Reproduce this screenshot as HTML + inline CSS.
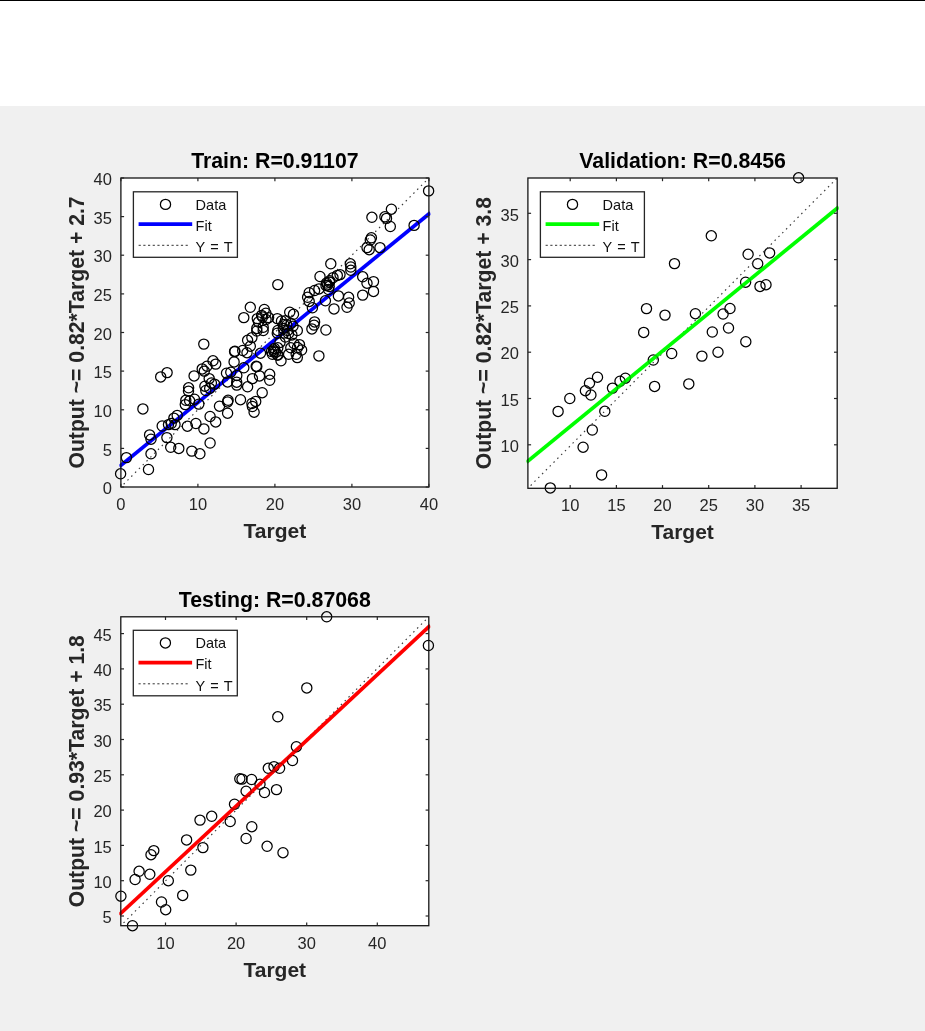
<!DOCTYPE html>
<html><head><meta charset="utf-8"><title>Regression</title>
<style>
html,body{margin:0;padding:0;background:#fff;}
body{width:925px;height:1031px;overflow:hidden;position:relative;font-family:"Liberation Sans",sans-serif;}
#top{position:absolute;left:0;top:0;width:925px;height:1px;background:#000;}
#fig{position:absolute;left:0;top:106px;width:925px;height:925px;background:#f0f0f0;}
svg{position:absolute;left:0;top:0;filter:blur(0.45px);}
svg text{font-family:"Liberation Sans",sans-serif;}
</style></head><body>
<div id="top"></div><div id="fig"></div>
<svg width="925" height="1031" viewBox="0 0 925 1031">
<rect x="120.9" y="178.0" width="308.0" height="309.0" fill="#fff"/>
<clipPath id="c120_178"><rect x="120.9" y="178.0" width="308.0" height="309.0"/></clipPath>
<clipPath id="c120_178f"><rect x="119.4" y="178.0" width="311.0" height="309.0"/></clipPath>
<clipPath id="c120_178l"><polygon points="120.60,467.97 431.60,214.27 429.20,211.33 118.20,465.03"/></clipPath>
<line x1="120.9" y1="487.0" x2="428.9" y2="178.0" stroke="#3a3a3a" stroke-width="1.15" stroke-dasharray="1.5 3.9" stroke-dashoffset="1.5" clip-path="url(#c120_178)"/>
<line x1="119.4" y1="466.5" x2="430.4" y2="212.8" stroke="#0000ff" stroke-width="3.7" clip-path="url(#c120_178f)"/>
<g fill="none" stroke="#000" stroke-width="1.25" stroke-opacity="1">
<circle cx="120.6" cy="473.8" r="5.1"/>
<circle cx="126.4" cy="457.6" r="5.1"/>
<circle cx="148.5" cy="469.5" r="5.1"/>
<circle cx="151.0" cy="453.8" r="5.1"/>
<circle cx="142.9" cy="408.9" r="5.1"/>
<circle cx="149.6" cy="434.9" r="5.1"/>
<circle cx="151.0" cy="439.2" r="5.1"/>
<circle cx="162.2" cy="426.0" r="5.1"/>
<circle cx="166.9" cy="437.6" r="5.1"/>
<circle cx="170.7" cy="447.3" r="5.1"/>
<circle cx="178.8" cy="448.4" r="5.1"/>
<circle cx="168.5" cy="424.6" r="5.1"/>
<circle cx="171.2" cy="423.5" r="5.1"/>
<circle cx="175.0" cy="424.6" r="5.1"/>
<circle cx="173.9" cy="418.1" r="5.1"/>
<circle cx="177.2" cy="415.4" r="5.1"/>
<circle cx="187.4" cy="426.2" r="5.1"/>
<circle cx="195.9" cy="423.5" r="5.1"/>
<circle cx="203.9" cy="428.9" r="5.1"/>
<circle cx="191.8" cy="451.1" r="5.1"/>
<circle cx="199.9" cy="453.8" r="5.1"/>
<circle cx="210.1" cy="443.0" r="5.1"/>
<circle cx="210.1" cy="416.5" r="5.1"/>
<circle cx="215.7" cy="421.9" r="5.1"/>
<circle cx="185.8" cy="400.3" r="5.1"/>
<circle cx="185.3" cy="404.6" r="5.1"/>
<circle cx="189.6" cy="400.8" r="5.1"/>
<circle cx="194.5" cy="399.2" r="5.1"/>
<circle cx="198.8" cy="404.1" r="5.1"/>
<circle cx="188.5" cy="391.1" r="5.1"/>
<circle cx="205.8" cy="390.5" r="5.1"/>
<circle cx="203.8" cy="344.1" r="5.1"/>
<circle cx="213.0" cy="360.8" r="5.1"/>
<circle cx="215.7" cy="364.1" r="5.1"/>
<circle cx="207.0" cy="366.2" r="5.1"/>
<circle cx="202.2" cy="368.9" r="5.1"/>
<circle cx="204.3" cy="371.1" r="5.1"/>
<circle cx="194.1" cy="375.9" r="5.1"/>
<circle cx="188.6" cy="387.8" r="5.1"/>
<circle cx="209.2" cy="378.6" r="5.1"/>
<circle cx="204.9" cy="386.2" r="5.1"/>
<circle cx="211.4" cy="383.0" r="5.1"/>
<circle cx="214.6" cy="384.1" r="5.1"/>
<circle cx="209.7" cy="388.4" r="5.1"/>
<circle cx="226.5" cy="373.2" r="5.1"/>
<circle cx="230.8" cy="372.2" r="5.1"/>
<circle cx="227.6" cy="381.9" r="5.1"/>
<circle cx="234.1" cy="361.9" r="5.1"/>
<circle cx="234.6" cy="351.6" r="5.1"/>
<circle cx="242.7" cy="350.5" r="5.1"/>
<circle cx="247.0" cy="352.7" r="5.1"/>
<circle cx="247.6" cy="340.3" r="5.1"/>
<circle cx="251.9" cy="337.6" r="5.1"/>
<circle cx="250.3" cy="346.2" r="5.1"/>
<circle cx="256.8" cy="331.0" r="5.1"/>
<circle cx="263.2" cy="330.5" r="5.1"/>
<circle cx="236.8" cy="375.4" r="5.1"/>
<circle cx="236.8" cy="385.1" r="5.1"/>
<circle cx="243.8" cy="367.8" r="5.1"/>
<circle cx="247.6" cy="386.8" r="5.1"/>
<circle cx="252.4" cy="378.6" r="5.1"/>
<circle cx="256.2" cy="366.2" r="5.1"/>
<circle cx="259.5" cy="375.9" r="5.1"/>
<circle cx="269.7" cy="374.3" r="5.1"/>
<circle cx="269.7" cy="380.3" r="5.1"/>
<circle cx="262.2" cy="392.7" r="5.1"/>
<circle cx="240.5" cy="399.7" r="5.1"/>
<circle cx="227.6" cy="401.9" r="5.1"/>
<circle cx="228.1" cy="400.3" r="5.1"/>
<circle cx="219.5" cy="406.2" r="5.1"/>
<circle cx="227.6" cy="413.2" r="5.1"/>
<circle cx="251.9" cy="403.5" r="5.1"/>
<circle cx="255.7" cy="401.4" r="5.1"/>
<circle cx="254.1" cy="412.2" r="5.1"/>
<circle cx="274.1" cy="351.6" r="5.1"/>
<circle cx="277.3" cy="354.9" r="5.1"/>
<circle cx="277.3" cy="333.2" r="5.1"/>
<circle cx="260.5" cy="353.2" r="5.1"/>
<circle cx="277.8" cy="284.6" r="5.1"/>
<circle cx="250.3" cy="307.3" r="5.1"/>
<circle cx="243.8" cy="317.6" r="5.1"/>
<circle cx="264.3" cy="309.5" r="5.1"/>
<circle cx="265.9" cy="313.2" r="5.1"/>
<circle cx="261.6" cy="315.4" r="5.1"/>
<circle cx="268.6" cy="317.6" r="5.1"/>
<circle cx="257.3" cy="318.6" r="5.1"/>
<circle cx="263.2" cy="327.3" r="5.1"/>
<circle cx="256.8" cy="328.4" r="5.1"/>
<circle cx="277.3" cy="318.6" r="5.1"/>
<circle cx="289.7" cy="312.2" r="5.1"/>
<circle cx="293.5" cy="314.3" r="5.1"/>
<circle cx="285.4" cy="320.8" r="5.1"/>
<circle cx="277.8" cy="330.5" r="5.1"/>
<circle cx="283.2" cy="328.4" r="5.1"/>
<circle cx="287.6" cy="330.5" r="5.1"/>
<circle cx="297.3" cy="330.5" r="5.1"/>
<circle cx="293.0" cy="326.2" r="5.1"/>
<circle cx="291.9" cy="334.9" r="5.1"/>
<circle cx="285.4" cy="337.0" r="5.1"/>
<circle cx="294.0" cy="343.5" r="5.1"/>
<circle cx="299.5" cy="344.6" r="5.1"/>
<circle cx="301.6" cy="350.0" r="5.1"/>
<circle cx="290.8" cy="347.8" r="5.1"/>
<circle cx="296.2" cy="354.3" r="5.1"/>
<circle cx="297.3" cy="357.6" r="5.1"/>
<circle cx="288.6" cy="354.3" r="5.1"/>
<circle cx="281.0" cy="360.8" r="5.1"/>
<circle cx="275.7" cy="352.2" r="5.1"/>
<circle cx="273.5" cy="350.0" r="5.1"/>
<circle cx="277.8" cy="347.8" r="5.1"/>
<circle cx="272.4" cy="354.3" r="5.1"/>
<circle cx="280.0" cy="342.4" r="5.1"/>
<circle cx="318.9" cy="355.9" r="5.1"/>
<circle cx="311.9" cy="328.9" r="5.1"/>
<circle cx="314.6" cy="321.9" r="5.1"/>
<circle cx="314.1" cy="325.1" r="5.1"/>
<circle cx="325.9" cy="330.0" r="5.1"/>
<circle cx="334.0" cy="308.9" r="5.1"/>
<circle cx="325.4" cy="300.8" r="5.1"/>
<circle cx="312.4" cy="307.8" r="5.1"/>
<circle cx="309.2" cy="301.4" r="5.1"/>
<circle cx="309.2" cy="292.7" r="5.1"/>
<circle cx="314.6" cy="290.5" r="5.1"/>
<circle cx="318.9" cy="288.9" r="5.1"/>
<circle cx="320.0" cy="276.5" r="5.1"/>
<circle cx="326.5" cy="283.0" r="5.1"/>
<circle cx="329.7" cy="280.8" r="5.1"/>
<circle cx="333.0" cy="277.6" r="5.1"/>
<circle cx="337.3" cy="275.4" r="5.1"/>
<circle cx="338.4" cy="295.9" r="5.1"/>
<circle cx="391.4" cy="209.2" r="5.1"/>
<circle cx="371.9" cy="217.3" r="5.1"/>
<circle cx="384.9" cy="216.8" r="5.1"/>
<circle cx="386.5" cy="218.4" r="5.1"/>
<circle cx="390.3" cy="226.5" r="5.1"/>
<circle cx="371.4" cy="237.8" r="5.1"/>
<circle cx="370.3" cy="240.0" r="5.1"/>
<circle cx="367.0" cy="247.6" r="5.1"/>
<circle cx="369.2" cy="249.7" r="5.1"/>
<circle cx="380.0" cy="247.6" r="5.1"/>
<circle cx="330.8" cy="263.8" r="5.1"/>
<circle cx="350.3" cy="263.8" r="5.1"/>
<circle cx="350.8" cy="267.0" r="5.1"/>
<circle cx="350.8" cy="270.3" r="5.1"/>
<circle cx="340.0" cy="274.6" r="5.1"/>
<circle cx="362.7" cy="276.8" r="5.1"/>
<circle cx="367.0" cy="283.2" r="5.1"/>
<circle cx="373.5" cy="281.6" r="5.1"/>
<circle cx="373.5" cy="291.4" r="5.1"/>
<circle cx="362.7" cy="295.1" r="5.1"/>
<circle cx="348.6" cy="297.3" r="5.1"/>
<circle cx="326.0" cy="285.4" r="5.1"/>
<circle cx="329.2" cy="286.5" r="5.1"/>
<circle cx="307.6" cy="297.3" r="5.1"/>
<circle cx="428.6" cy="190.9" r="5.1"/>
<circle cx="414.1" cy="225.4" r="5.1"/>
<circle cx="160.7" cy="376.9" r="5.1"/>
<circle cx="167.1" cy="372.6" r="5.1"/>
<circle cx="349.2" cy="303.0" r="5.1"/>
<circle cx="347.0" cy="307.3" r="5.1"/>
<circle cx="327.6" cy="285.1" r="5.1"/>
<circle cx="329.5" cy="282.2" r="5.1"/>
<circle cx="328.5" cy="289.5" r="5.1"/>
<circle cx="252.4" cy="406.5" r="5.1"/>
<circle cx="286.8" cy="325.0" r="5.1"/>
<circle cx="283.8" cy="324.5" r="5.1"/>
<circle cx="291.0" cy="323.5" r="5.1"/>
<circle cx="288.5" cy="333.5" r="5.1"/>
<circle cx="284.0" cy="333.0" r="5.1"/>
<circle cx="281.5" cy="321.0" r="5.1"/>
<circle cx="262.5" cy="317.0" r="5.1"/>
<circle cx="266.0" cy="319.5" r="5.1"/>
<circle cx="258.5" cy="322.0" r="5.1"/>
<circle cx="274.5" cy="348.5" r="5.1"/>
<circle cx="278.0" cy="355.0" r="5.1"/>
<circle cx="271.5" cy="351.5" r="5.1"/>
<circle cx="297.5" cy="347.5" r="5.1"/>
<circle cx="236.7" cy="382.2" r="5.1"/>
<circle cx="234.9" cy="351.2" r="5.1"/>
<circle cx="256.8" cy="366.6" r="5.1"/>
</g>
<rect x="120.9" y="178.0" width="308.0" height="309.0" fill="none" stroke="#151515" stroke-width="1.3"/>
<g stroke="#262626" stroke-width="1.2">
<line x1="120.9" y1="487.0" x2="120.9" y2="483.8"/><line x1="120.9" y1="178.0" x2="120.9" y2="181.2"/>
<line x1="197.9" y1="487.0" x2="197.9" y2="483.8"/><line x1="197.9" y1="178.0" x2="197.9" y2="181.2"/>
<line x1="274.9" y1="487.0" x2="274.9" y2="483.8"/><line x1="274.9" y1="178.0" x2="274.9" y2="181.2"/>
<line x1="351.9" y1="487.0" x2="351.9" y2="483.8"/><line x1="351.9" y1="178.0" x2="351.9" y2="181.2"/>
<line x1="428.9" y1="487.0" x2="428.9" y2="483.8"/><line x1="428.9" y1="178.0" x2="428.9" y2="181.2"/>
<line x1="120.9" y1="487.0" x2="124.10000000000001" y2="487.0"/><line x1="428.9" y1="487.0" x2="425.7" y2="487.0"/>
<line x1="120.9" y1="448.4" x2="124.10000000000001" y2="448.4"/><line x1="428.9" y1="448.4" x2="425.7" y2="448.4"/>
<line x1="120.9" y1="409.8" x2="124.10000000000001" y2="409.8"/><line x1="428.9" y1="409.8" x2="425.7" y2="409.8"/>
<line x1="120.9" y1="371.1" x2="124.10000000000001" y2="371.1"/><line x1="428.9" y1="371.1" x2="425.7" y2="371.1"/>
<line x1="120.9" y1="332.5" x2="124.10000000000001" y2="332.5"/><line x1="428.9" y1="332.5" x2="425.7" y2="332.5"/>
<line x1="120.9" y1="293.9" x2="124.10000000000001" y2="293.9"/><line x1="428.9" y1="293.9" x2="425.7" y2="293.9"/>
<line x1="120.9" y1="255.2" x2="124.10000000000001" y2="255.2"/><line x1="428.9" y1="255.2" x2="425.7" y2="255.2"/>
<line x1="120.9" y1="216.6" x2="124.10000000000001" y2="216.6"/><line x1="428.9" y1="216.6" x2="425.7" y2="216.6"/>
<line x1="120.9" y1="178.0" x2="124.10000000000001" y2="178.0"/><line x1="428.9" y1="178.0" x2="425.7" y2="178.0"/>
</g>
<g fill="#262626" font-size="16.5" class="t">
<text x="120.9" y="510.1" text-anchor="middle">0</text>
<text x="197.9" y="510.1" text-anchor="middle">10</text>
<text x="274.9" y="510.1" text-anchor="middle">20</text>
<text x="351.9" y="510.1" text-anchor="middle">30</text>
<text x="428.9" y="510.1" text-anchor="middle">40</text>
<text x="111.9" y="494.2" text-anchor="end">0</text>
<text x="111.9" y="455.59999999999997" text-anchor="end">5</text>
<text x="111.9" y="417.0" text-anchor="end">10</text>
<text x="111.9" y="378.3" text-anchor="end">15</text>
<text x="111.9" y="339.7" text-anchor="end">20</text>
<text x="111.9" y="301.09999999999997" text-anchor="end">25</text>
<text x="111.9" y="262.4" text-anchor="end">30</text>
<text x="111.9" y="223.79999999999998" text-anchor="end">35</text>
<text x="111.9" y="185.2" text-anchor="end">40</text>
</g>
<text x="274.9" y="538.0" text-anchor="middle" font-size="21" font-weight="bold" fill="#262626">Target</text>
<text x="274.9" y="167.8" text-anchor="middle" font-size="21.3" font-weight="bold" fill="#000">Train: R=0.91107</text>
<text transform="translate(84.4 332.5) rotate(-90)" text-anchor="middle" font-size="21.2" font-weight="bold" fill="#262626">Output ~= 0.82*Target + 2.7</text>
<rect x="133.4" y="191.8" width="104.0" height="65.5" fill="#fff" stroke="#262626" stroke-width="1.3"/>
<circle cx="165.5" cy="204.4" r="5.1" fill="none" stroke="#000" stroke-width="1.25"/>
<line x1="138.6" y1="224.20000000000002" x2="192.2" y2="224.20000000000002" stroke="#0000ff" stroke-width="3.8"/>
<line x1="138.6" y1="245.3" x2="189.4" y2="245.3" stroke="#333" stroke-width="1" stroke-dasharray="2.2 2.5"/>
<g fill="#111" font-size="14.5" word-spacing="1.3" class="t"><text x="195.60000000000002" y="209.60000000000002">Data</text><text x="195.60000000000002" y="230.9">Fit</text><text x="195.60000000000002" y="252.10000000000002">Y = T</text></g>
<rect x="527.9" y="178.0" width="309.30000000000007" height="310.3" fill="#fff"/>
<clipPath id="c527_178"><rect x="527.9" y="178.0" width="309.30000000000007" height="310.3"/></clipPath>
<clipPath id="c527_178f"><rect x="526.4" y="178.0" width="312.30000000000007" height="310.3"/></clipPath>
<clipPath id="c527_178l"><polygon points="527.60,463.67 839.90,208.47 837.50,205.53 525.20,460.73"/></clipPath>
<g fill="none" stroke="#000" stroke-width="1.25" stroke-opacity="1">
<circle cx="550.3" cy="487.9" r="5.1"/>
<circle cx="601.6" cy="474.9" r="5.1"/>
<circle cx="583.1" cy="447.2" r="5.1"/>
<circle cx="592.3" cy="430.0" r="5.1"/>
<circle cx="604.8" cy="411.3" r="5.1"/>
<circle cx="558.1" cy="411.4" r="5.1"/>
<circle cx="569.8" cy="398.5" r="5.1"/>
<circle cx="585.4" cy="390.7" r="5.1"/>
<circle cx="590.9" cy="395.0" r="5.1"/>
<circle cx="589.5" cy="383.2" r="5.1"/>
<circle cx="597.5" cy="377.2" r="5.1"/>
<circle cx="612.5" cy="388.1" r="5.1"/>
<circle cx="620.0" cy="381.2" r="5.1"/>
<circle cx="625.4" cy="378.2" r="5.1"/>
<circle cx="653.3" cy="360.0" r="5.1"/>
<circle cx="654.6" cy="386.4" r="5.1"/>
<circle cx="671.7" cy="353.5" r="5.1"/>
<circle cx="711.3" cy="235.8" r="5.1"/>
<circle cx="674.5" cy="263.6" r="5.1"/>
<circle cx="748.1" cy="254.3" r="5.1"/>
<circle cx="769.6" cy="252.9" r="5.1"/>
<circle cx="757.7" cy="263.7" r="5.1"/>
<circle cx="745.6" cy="282.2" r="5.1"/>
<circle cx="760.0" cy="286.4" r="5.1"/>
<circle cx="766.0" cy="284.7" r="5.1"/>
<circle cx="646.5" cy="308.6" r="5.1"/>
<circle cx="665.0" cy="315.1" r="5.1"/>
<circle cx="695.4" cy="313.7" r="5.1"/>
<circle cx="723.1" cy="314.0" r="5.1"/>
<circle cx="730.0" cy="308.5" r="5.1"/>
<circle cx="643.7" cy="332.4" r="5.1"/>
<circle cx="712.3" cy="332.0" r="5.1"/>
<circle cx="728.5" cy="328.0" r="5.1"/>
<circle cx="745.8" cy="341.7" r="5.1"/>
<circle cx="701.9" cy="356.1" r="5.1"/>
<circle cx="718.0" cy="352.2" r="5.1"/>
<circle cx="688.8" cy="383.9" r="5.1"/>
<circle cx="798.6" cy="177.8" r="5.1"/>
</g>
<line x1="527.9" y1="488.3" x2="837.2" y2="178.0" stroke="#3a3a3a" stroke-width="1.15" stroke-dasharray="1.5 3.9" stroke-dashoffset="1.5" clip-path="url(#c527_178)"/>
<line x1="526.4" y1="462.2" x2="838.7" y2="207.0" stroke="#00ff00" stroke-width="3.7" clip-path="url(#c527_178f)"/>
<g fill="none" stroke="#000" stroke-width="1.25" stroke-opacity="0.28" clip-path="url(#c527_178l)">
<circle cx="612.5" cy="388.1" r="5.1"/>
<circle cx="620.0" cy="381.2" r="5.1"/>
<circle cx="625.4" cy="378.2" r="5.1"/>
<circle cx="653.3" cy="360.0" r="5.1"/>
<circle cx="671.7" cy="353.5" r="5.1"/>
<circle cx="757.7" cy="263.7" r="5.1"/>
<circle cx="745.6" cy="282.2" r="5.1"/>
<circle cx="695.4" cy="313.7" r="5.1"/>
</g>
<rect x="527.9" y="178.0" width="309.30000000000007" height="310.3" fill="none" stroke="#151515" stroke-width="1.3"/>
<g stroke="#262626" stroke-width="1.2">
<line x1="570.2" y1="488.3" x2="570.2" y2="485.1"/><line x1="570.2" y1="178.0" x2="570.2" y2="181.2"/>
<line x1="616.4" y1="488.3" x2="616.4" y2="485.1"/><line x1="616.4" y1="178.0" x2="616.4" y2="181.2"/>
<line x1="662.5" y1="488.3" x2="662.5" y2="485.1"/><line x1="662.5" y1="178.0" x2="662.5" y2="181.2"/>
<line x1="708.7" y1="488.3" x2="708.7" y2="485.1"/><line x1="708.7" y1="178.0" x2="708.7" y2="181.2"/>
<line x1="754.9" y1="488.3" x2="754.9" y2="485.1"/><line x1="754.9" y1="178.0" x2="754.9" y2="181.2"/>
<line x1="801.1" y1="488.3" x2="801.1" y2="485.1"/><line x1="801.1" y1="178.0" x2="801.1" y2="181.2"/>
<line x1="527.9" y1="444.8" x2="531.1" y2="444.8"/><line x1="837.2" y1="444.8" x2="834.0" y2="444.8"/>
<line x1="527.9" y1="398.5" x2="531.1" y2="398.5"/><line x1="837.2" y1="398.5" x2="834.0" y2="398.5"/>
<line x1="527.9" y1="352.2" x2="531.1" y2="352.2"/><line x1="837.2" y1="352.2" x2="834.0" y2="352.2"/>
<line x1="527.9" y1="305.9" x2="531.1" y2="305.9"/><line x1="837.2" y1="305.9" x2="834.0" y2="305.9"/>
<line x1="527.9" y1="259.6" x2="531.1" y2="259.6"/><line x1="837.2" y1="259.6" x2="834.0" y2="259.6"/>
<line x1="527.9" y1="213.3" x2="531.1" y2="213.3"/><line x1="837.2" y1="213.3" x2="834.0" y2="213.3"/>
</g>
<g fill="#262626" font-size="16.5" class="t">
<text x="570.2" y="511.40000000000003" text-anchor="middle">10</text>
<text x="616.4" y="511.40000000000003" text-anchor="middle">15</text>
<text x="662.5" y="511.40000000000003" text-anchor="middle">20</text>
<text x="708.7" y="511.40000000000003" text-anchor="middle">25</text>
<text x="754.9" y="511.40000000000003" text-anchor="middle">30</text>
<text x="801.1" y="511.40000000000003" text-anchor="middle">35</text>
<text x="518.9" y="452.0" text-anchor="end">10</text>
<text x="518.9" y="405.7" text-anchor="end">15</text>
<text x="518.9" y="359.4" text-anchor="end">20</text>
<text x="518.9" y="313.09999999999997" text-anchor="end">25</text>
<text x="518.9" y="266.8" text-anchor="end">30</text>
<text x="518.9" y="220.5" text-anchor="end">35</text>
</g>
<text x="682.55" y="539.3" text-anchor="middle" font-size="21" font-weight="bold" fill="#262626">Target</text>
<text x="682.55" y="167.8" text-anchor="middle" font-size="21.3" font-weight="bold" fill="#000">Validation: R=0.8456</text>
<text transform="translate(491.4 333.15) rotate(-90)" text-anchor="middle" font-size="21.2" font-weight="bold" fill="#262626">Output ~= 0.82*Target + 3.8</text>
<rect x="540.4" y="191.8" width="104.0" height="65.5" fill="#fff" stroke="#262626" stroke-width="1.3"/>
<circle cx="572.5" cy="204.4" r="5.1" fill="none" stroke="#000" stroke-width="1.25"/>
<line x1="545.6" y1="224.20000000000002" x2="599.1999999999999" y2="224.20000000000002" stroke="#00ff00" stroke-width="3.8"/>
<line x1="545.6" y1="245.3" x2="596.4" y2="245.3" stroke="#333" stroke-width="1" stroke-dasharray="2.2 2.5"/>
<g fill="#111" font-size="14.5" word-spacing="1.3" class="t"><text x="602.6" y="209.60000000000002">Data</text><text x="602.6" y="230.9">Fit</text><text x="602.6" y="252.10000000000002">Y = T</text></g>
<rect x="120.8" y="616.8" width="308.0" height="308.9000000000001" fill="#fff"/>
<clipPath id="c120_616"><rect x="120.8" y="616.8" width="308.0" height="308.9000000000001"/></clipPath>
<clipPath id="c120_616f"><rect x="119.3" y="616.8" width="311.0" height="308.9000000000001"/></clipPath>
<clipPath id="c120_616l"><polygon points="120.59,916.09 431.59,626.79 429.01,624.01 118.01,913.31"/></clipPath>
<g fill="none" stroke="#000" stroke-width="1.25" stroke-opacity="1">
<circle cx="132.5" cy="925.7" r="5.1"/>
<circle cx="120.9" cy="896.2" r="5.1"/>
<circle cx="135.1" cy="879.5" r="5.1"/>
<circle cx="139.1" cy="871.3" r="5.1"/>
<circle cx="149.8" cy="874.3" r="5.1"/>
<circle cx="151.0" cy="854.7" r="5.1"/>
<circle cx="153.8" cy="850.6" r="5.1"/>
<circle cx="168.3" cy="880.7" r="5.1"/>
<circle cx="161.5" cy="902.0" r="5.1"/>
<circle cx="165.7" cy="909.7" r="5.1"/>
<circle cx="182.7" cy="895.4" r="5.1"/>
<circle cx="190.8" cy="870.1" r="5.1"/>
<circle cx="186.6" cy="839.9" r="5.1"/>
<circle cx="202.9" cy="847.6" r="5.1"/>
<circle cx="200.0" cy="820.1" r="5.1"/>
<circle cx="211.7" cy="816.3" r="5.1"/>
<circle cx="230.2" cy="821.5" r="5.1"/>
<circle cx="234.5" cy="804.2" r="5.1"/>
<circle cx="246.1" cy="838.5" r="5.1"/>
<circle cx="251.8" cy="826.7" r="5.1"/>
<circle cx="267.1" cy="846.3" r="5.1"/>
<circle cx="246.1" cy="791.2" r="5.1"/>
<circle cx="264.5" cy="792.5" r="5.1"/>
<circle cx="260.0" cy="784.3" r="5.1"/>
<circle cx="251.6" cy="779.5" r="5.1"/>
<circle cx="239.8" cy="778.7" r="5.1"/>
<circle cx="242.0" cy="779.1" r="5.1"/>
<circle cx="277.8" cy="716.8" r="5.1"/>
<circle cx="296.4" cy="746.7" r="5.1"/>
<circle cx="292.5" cy="760.5" r="5.1"/>
<circle cx="268.3" cy="768.3" r="5.1"/>
<circle cx="274.0" cy="766.6" r="5.1"/>
<circle cx="279.6" cy="768.3" r="5.1"/>
<circle cx="276.5" cy="789.6" r="5.1"/>
<circle cx="283.0" cy="852.7" r="5.1"/>
<circle cx="326.7" cy="616.8" r="5.1"/>
<circle cx="428.4" cy="645.5" r="5.1"/>
<circle cx="306.8" cy="687.9" r="5.1"/>
</g>
<line x1="120.8" y1="925.7" x2="428.8" y2="616.8" stroke="#3a3a3a" stroke-width="1.15" stroke-dasharray="1.5 3.9" stroke-dashoffset="1.5" clip-path="url(#c120_616)"/>
<line x1="119.3" y1="914.6999999999999" x2="430.3" y2="625.4" stroke="#ff0000" stroke-width="3.7" clip-path="url(#c120_616f)"/>
<g fill="none" stroke="#000" stroke-width="1.25" stroke-opacity="0.28" clip-path="url(#c120_616l)">
<circle cx="202.9" cy="847.6" r="5.1"/>
<circle cx="230.2" cy="821.5" r="5.1"/>
<circle cx="234.5" cy="804.2" r="5.1"/>
<circle cx="246.1" cy="791.2" r="5.1"/>
<circle cx="260.0" cy="784.3" r="5.1"/>
<circle cx="296.4" cy="746.7" r="5.1"/>
<circle cx="292.5" cy="760.5" r="5.1"/>
<circle cx="268.3" cy="768.3" r="5.1"/>
<circle cx="274.0" cy="766.6" r="5.1"/>
<circle cx="279.6" cy="768.3" r="5.1"/>
</g>
<rect x="120.8" y="616.8" width="308.0" height="308.9000000000001" fill="none" stroke="#151515" stroke-width="1.3"/>
<g stroke="#262626" stroke-width="1.2">
<line x1="165.5" y1="925.7" x2="165.5" y2="922.5"/><line x1="165.5" y1="616.8" x2="165.5" y2="620.0"/>
<line x1="236.1" y1="925.7" x2="236.1" y2="922.5"/><line x1="236.1" y1="616.8" x2="236.1" y2="620.0"/>
<line x1="306.7" y1="925.7" x2="306.7" y2="922.5"/><line x1="306.7" y1="616.8" x2="306.7" y2="620.0"/>
<line x1="377.3" y1="925.7" x2="377.3" y2="922.5"/><line x1="377.3" y1="616.8" x2="377.3" y2="620.0"/>
<line x1="120.8" y1="916.0" x2="124.0" y2="916.0"/><line x1="428.8" y1="916.0" x2="425.6" y2="916.0"/>
<line x1="120.8" y1="880.7" x2="124.0" y2="880.7"/><line x1="428.8" y1="880.7" x2="425.6" y2="880.7"/>
<line x1="120.8" y1="845.4" x2="124.0" y2="845.4"/><line x1="428.8" y1="845.4" x2="425.6" y2="845.4"/>
<line x1="120.8" y1="810.1" x2="124.0" y2="810.1"/><line x1="428.8" y1="810.1" x2="425.6" y2="810.1"/>
<line x1="120.8" y1="774.8" x2="124.0" y2="774.8"/><line x1="428.8" y1="774.8" x2="425.6" y2="774.8"/>
<line x1="120.8" y1="739.5" x2="124.0" y2="739.5"/><line x1="428.8" y1="739.5" x2="425.6" y2="739.5"/>
<line x1="120.8" y1="704.2" x2="124.0" y2="704.2"/><line x1="428.8" y1="704.2" x2="425.6" y2="704.2"/>
<line x1="120.8" y1="668.9" x2="124.0" y2="668.9"/><line x1="428.8" y1="668.9" x2="425.6" y2="668.9"/>
<line x1="120.8" y1="633.6" x2="124.0" y2="633.6"/><line x1="428.8" y1="633.6" x2="425.6" y2="633.6"/>
</g>
<g fill="#262626" font-size="16.5" class="t">
<text x="165.5" y="948.8000000000001" text-anchor="middle">10</text>
<text x="236.1" y="948.8000000000001" text-anchor="middle">20</text>
<text x="306.7" y="948.8000000000001" text-anchor="middle">30</text>
<text x="377.3" y="948.8000000000001" text-anchor="middle">40</text>
<text x="111.8" y="923.2" text-anchor="end">5</text>
<text x="111.8" y="887.9000000000001" text-anchor="end">10</text>
<text x="111.8" y="852.6" text-anchor="end">15</text>
<text x="111.8" y="817.3000000000001" text-anchor="end">20</text>
<text x="111.8" y="782.0" text-anchor="end">25</text>
<text x="111.8" y="746.7" text-anchor="end">30</text>
<text x="111.8" y="711.4000000000001" text-anchor="end">35</text>
<text x="111.8" y="676.1" text-anchor="end">40</text>
<text x="111.8" y="640.8000000000001" text-anchor="end">45</text>
</g>
<text x="274.8" y="976.7" text-anchor="middle" font-size="21" font-weight="bold" fill="#262626">Target</text>
<text x="274.8" y="606.5999999999999" text-anchor="middle" font-size="21.3" font-weight="bold" fill="#000">Testing: R=0.87068</text>
<text transform="translate(84.3 771.25) rotate(-90)" text-anchor="middle" font-size="21.2" font-weight="bold" fill="#262626">Output ~= 0.93*Target + 1.8</text>
<rect x="133.3" y="630.3" width="104.0" height="65.5" fill="#fff" stroke="#262626" stroke-width="1.3"/>
<circle cx="165.4" cy="642.9" r="5.1" fill="none" stroke="#000" stroke-width="1.25"/>
<line x1="138.5" y1="662.6999999999999" x2="192.10000000000002" y2="662.6999999999999" stroke="#ff0000" stroke-width="3.8"/>
<line x1="138.5" y1="683.8" x2="189.3" y2="683.8" stroke="#333" stroke-width="1" stroke-dasharray="2.2 2.5"/>
<g fill="#111" font-size="14.5" word-spacing="1.3" class="t"><text x="195.5" y="648.0999999999999">Data</text><text x="195.5" y="669.4">Fit</text><text x="195.5" y="690.5999999999999">Y = T</text></g>
</svg>
</body></html>
